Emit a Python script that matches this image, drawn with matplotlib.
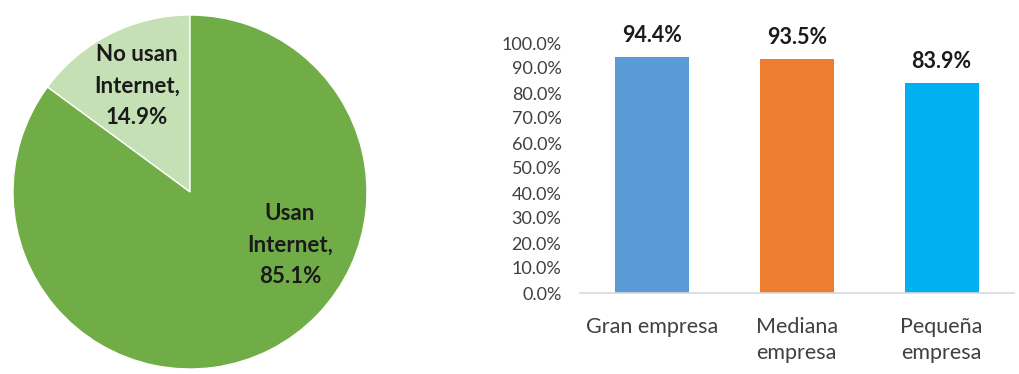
import matplotlib
matplotlib.use("Agg")
import matplotlib.pyplot as plt
from matplotlib.ticker import FuncFormatter

# Share of firms using Internet
pie_labels = ["No usan\nInternet,", "Usan\nInternet,"]
pie_values = [14.9, 85.1]
pie_colors = ["#C5E0B4", "#70AD47"]

# Internet use by firm size
categories = ["Gran empresa", "Mediana\nempresa", "Pequeña\nempresa"]
bar_values = [94.4, 93.5, 83.9]
bar_colors = ["#5B9BD5", "#ED7D31", "#00B0F0"]
y_ticks = [0, 10, 20, 30, 40, 50, 60, 70, 80, 90, 100]

plt.rcParams["font.family"] = ["Lato", "DejaVu Sans"]

W, H = 1019, 374
fig = plt.figure(figsize=(W / 100, H / 100), dpi=100)
fig.patch.set_facecolor("white")


def box(left, top, right, bottom):
    return [left / W, 1 - bottom / H, (right - left) / W, (bottom - top) / H]


# --- pie ---
ax_pie = fig.add_axes(box(13, 15, 367, 369))
ax_pie.pie(pie_values, colors=pie_colors, startangle=90, counterclock=True,
           radius=1, wedgeprops=dict(edgecolor="white", linewidth=1))
ax_pie.set_xlim(-1, 1)
ax_pie.set_ylim(-1, 1)
ax_pie.set_aspect("equal")
ax_pie.axis("off")
label_pos = [(-0.30, 0.60), (0.565, -0.30)]
for lab, val, (x, y) in zip(pie_labels, pie_values, label_pos):
    ax_pie.text(x, y, f"{lab}\n{val:.1f}%", ha="center", va="center",
                fontsize=16, fontweight="bold", color="#1a1a1a",
                linespacing=1.62)

# --- bars ---
ax_bar = fig.add_axes(box(579.5, 43, 1014, 293))
xs = list(range(len(categories)))
bars = ax_bar.bar(xs, bar_values, width=0.51, color=bar_colors)
ax_bar.set_xlim(-0.5, len(categories) - 0.5)
ax_bar.set_ylim(0, 100)
ax_bar.set_yticks(y_ticks)
ax_bar.yaxis.set_major_formatter(FuncFormatter(lambda v, p: f"{v:.1f}%"))
ax_bar.tick_params(axis="y", length=0, labelsize=13, labelcolor="#404040", pad=13)
ax_bar.set_xticks(xs)
ax_bar.set_xticklabels(categories)
ax_bar.tick_params(axis="x", length=0, labelsize=15.5, labelcolor="#404040", pad=17)
for lbl in ax_bar.get_xticklabels():
    lbl.set_linespacing(1.4)
    lbl.set_verticalalignment("top")
for side in ["top", "right", "left"]:
    ax_bar.spines[side].set_visible(False)
ax_bar.spines["bottom"].set_color("#D9D9D9")
ax_bar.spines["bottom"].set_linewidth(1.2)
for b, v in zip(bars, bar_values):
    ax_bar.text(b.get_x() + b.get_width() / 2, v + 4.5, f"{v:.1f}%",
                ha="center", va="bottom", fontsize=15.5, fontweight="bold",
                color="#1a1a1a", clip_on=False)

fig.savefig("out.png", dpi=100, facecolor="white")
